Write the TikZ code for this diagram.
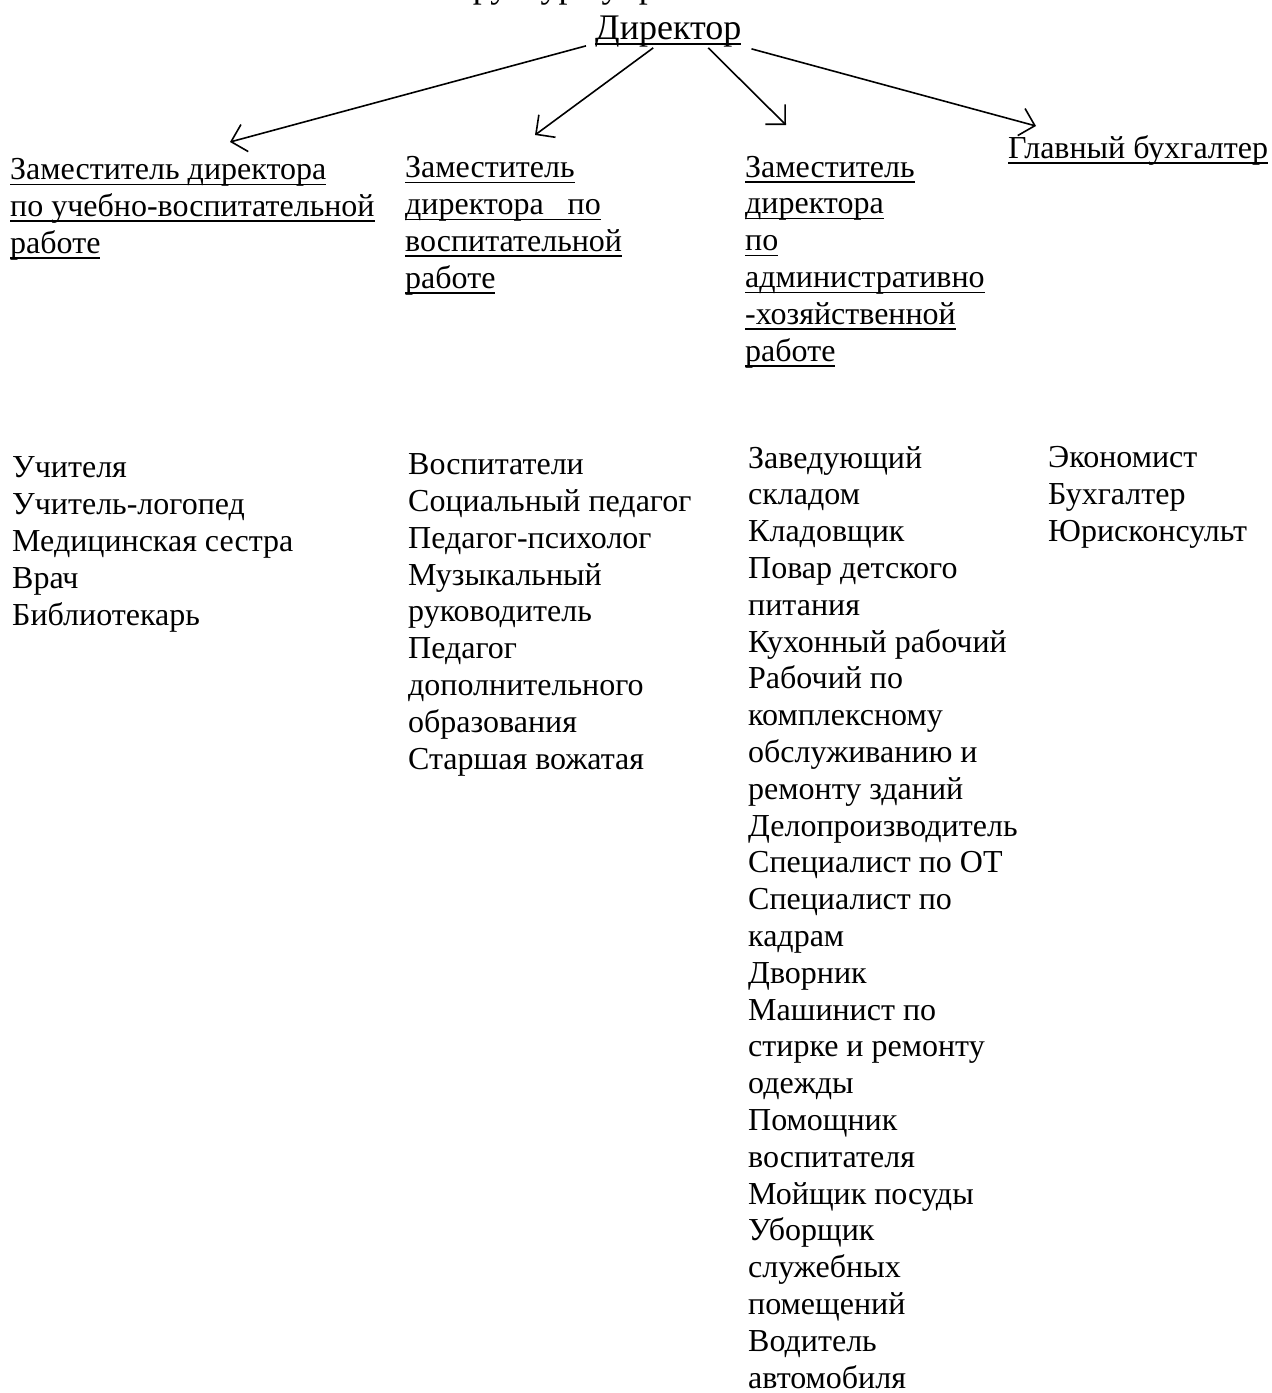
\documentclass[tikz,border=0pt]{standalone}
\usepackage{fontspec}
\setmainfont{Liberation Serif}
\usetikzlibrary{arrows.meta, calc}
\newsavebox{\undlbox}
\newcommand{\undl}[1]{\sbox{\undlbox}{#1}\rlap{\rule[-5.5pt]{\wd\undlbox}{1.4pt}}\usebox{\undlbox}}

\begin{document}
\begin{tikzpicture}[x=1pt, y=-1pt,
    txt/.style={inner sep=0pt, anchor=base west, align=left,
        font=\fontsize{32}{36.8}\selectfont},
    big/.style={txt, font=\fontsize{36}{40}\selectfont},
    arr/.style={line width=1.6pt, -{Straight Barb[length=14pt, width=28pt, line width=1.6pt]}}]
                    \useasboundingbox (0,0) rectangle (1272,1393);
                    \clip (0,0) rectangle (1272,1393);
                    \node[big] (title) at (433,-3) {Структура управления};
                    \node[big] (dir) at (595,39) {\undl{Директор}};
                    \node[txt] (zuvr) at (10,253) {\undl{Заместитель директора}\\
                        \undl{по учебно-воспитательной}\\ \undl{работе}};
                    \node[txt] (zvr) at (405,288) {\undl{Заместитель}\\
                        \undl{директора\ \ \ по}\\ \undl{воспитательной}\\ \undl{работе}};
                    \node[txt] (zahr) at (745,361) {\undl{Заместитель}\\ \undl{директора}\\
                        \undl{по}\\ \undl{административно}\\ \undl{-хозяйственной}\\ \undl{работе}};
                    \node[txt] (gb) at (1008,158) {\undl{Главный бухгалтер}};
                    \node[txt] (luvr) at (12,625) {Учителя\\ Учитель-логопед\\ Медицинская сестра\\
                        Врач\\ Библиотекарь};
                    \node[txt] (lvr) at (408,769) {Воспитатели\\ Социальный педагог\\ Педагог-психолог\\
                        Музыкальный\\ руководитель\\ Педагог\\ дополнительного\\ образования\\
                        Старшая вожатая};
                    \node[txt] (lahr) at (748,1388) {Заведующий\\ складом\\ Кладовщик\\ Повар детского\\
                        питания\\ Кухонный рабочий\\ Рабочий по\\ комплексному\\ обслуживанию и\\
                        ремонту зданий\\ Делопроизводитель\\ Специалист по ОТ\\ Специалист по\\
                        кадрам\\ Дворник\\ Машинист по\\ стирке и ремонту\\ одежды\\ Помощник\\
                        воспитателя\\ Мойщик посуды\\ Уборщик\\ служебных\\ помещений\\ Водитель\\
                        автомобиля};
                    \node[txt] (lgb) at (1048,541) {Экономист\\ Бухгалтер\\ Юрисконсульт};
                    \coordinate (a1) at (230,142);
                    \coordinate (a2) at (535,135);
                    \coordinate (a3) at (786,125);
                    \coordinate (a4) at (1036,126);
                    \draw[arr] ($(dir.south west)+(-9,-1)$) -- (a1);
                    \draw[arr] ($(dir.south)+(-15,1)$) -- (a2);
                    \draw[arr] ($(dir.south)+(40,1)$) -- (a3);
                    \draw[arr] ($(dir.south east)+(10,2)$) -- (a4);
                \end{tikzpicture}
\end{document}
